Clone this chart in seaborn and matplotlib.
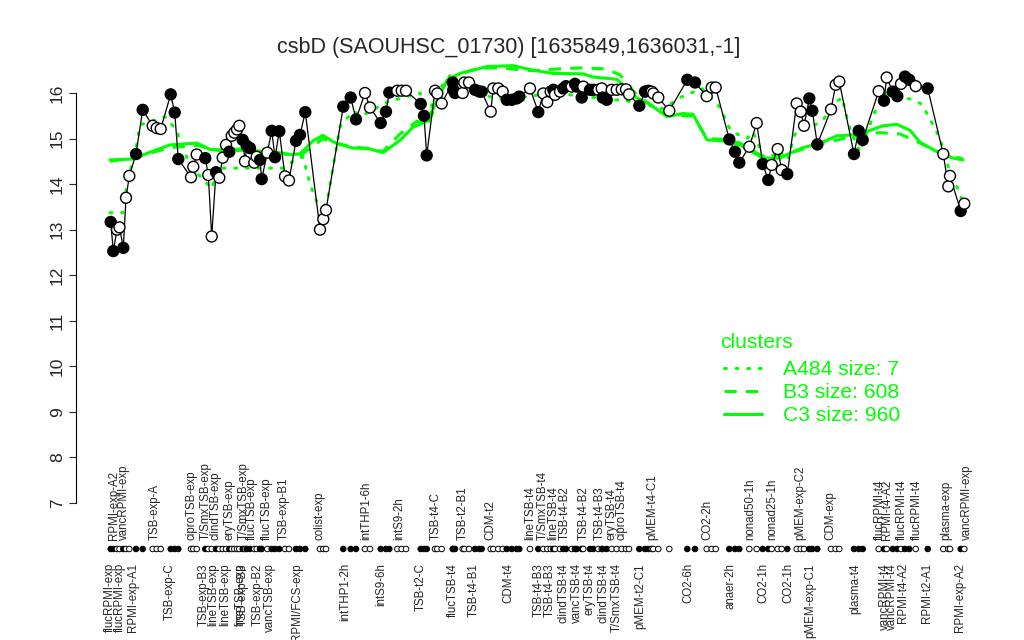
import matplotlib
matplotlib.use("Agg")
import matplotlib.pyplot as plt
import matplotlib.transforms as mtransforms
from matplotlib.lines import Line2D
import seaborn as sns

title = "csbD (SAOUHSC_01730) [1635849,1636031,-1]"

# condition position along the ordering, expression value, filled marker flag
pos = [10.7, 13.3, 17, 19.5, 23.3, 26, 29.3, 36, 42.7, 52.7,
       56.7, 60.7, 70.7, 74.7, 78.3, 91, 93.3, 96.7, 105.3, 108.3,
       111.7, 116, 119.3, 122.7, 126, 129.3, 131.7, 134.3, 137, 139.3,
       142.7, 145, 146.7, 150, 154.3, 156.7, 160, 161.7, 167.3, 171.7,
       175, 179.3, 185, 189, 196, 200, 205.3, 220, 223.3, 226,
       243.3, 250.7, 256, 265, 270, 280.7, 286, 289.3, 297.3, 301.7,
       306, 320.7, 324, 326.7, 335, 337.3, 341.7, 352.7, 353.3, 355,
       362.7, 364.3, 369, 375, 379.3, 381.7, 390.7, 393.3, 398.3, 402.7,
       406.7, 411.7, 416.7, 419.3, 430, 438.3, 443.3, 447.3, 450.7, 453.3,
       455, 460, 463.3, 466, 471.7, 475, 476.7, 481.7, 483.3, 490,
       493.3, 498.3, 501.7, 502.7, 506.7, 511.7, 516.7, 521.7, 526, 529,
       539.3, 545, 548.3, 551.7, 553.3, 558.3, 569.3, 587.3, 595, 606.7,
       611.7, 615.7, 629.3, 635, 639.3, 649.3, 656.7, 662.7, 668.3, 671.7,
       677.7, 681.7, 687.3, 696.7, 700.7, 704, 709.3, 712.3, 717.3, 731,
       735.7, 739.3, 754, 758.7, 762.7, 778.7, 784, 786.7, 792.7, 797.3,
       801, 805, 809.3, 815.7, 827.7, 843.3, 848.3, 850, 860.7, 864.3]
expr = [13.17, 12.53, 13.0, 13.05, 12.6, 13.7, 14.18, 14.66, 15.63, 15.28,
        15.23, 15.21, 15.97, 15.57, 14.55, 14.15, 14.38, 14.65, 14.57, 14.2,
        12.85, 14.26, 14.14, 14.58, 14.86, 14.71, 15.06, 15.13, 15.2, 15.28,
        14.97, 14.5, 14.84, 14.79, 14.47, 14.6, 14.53, 14.11, 14.69, 15.17,
        14.59, 15.16, 14.17, 14.08, 14.95, 15.08, 15.58, 13.0, 13.23, 13.43,
        15.7, 15.9, 15.42, 16.0, 15.68, 15.34, 15.59, 16.01, 16.05, 16.05,
        16.05, 15.76, 15.5, 14.63, 16.05, 15.99, 15.77, 16.23, 16.07, 16.0,
        16.0, 16.23, 16.23, 16.07, 16.03, 16.03, 15.59, 16.1, 16.1, 16.03,
        15.85, 15.85, 15.88, 15.92, 16.1, 15.58, 15.99, 15.8, 16.03, 16.07,
        15.96, 16.03, 16.1, 16.15, 16.14, 16.2, 16.14, 15.9, 16.14, 16.07,
        16.07, 16.07, 16.1, 15.9, 15.85, 16.07, 16.07, 16.08, 16.08, 15.97,
        15.72, 16.03, 16.05, 16.03, 15.99, 15.9, 15.61, 16.29, 16.23, 15.93,
        16.12, 16.12, 14.98, 14.71, 14.47, 14.82, 15.34, 14.44, 14.09, 14.42,
        14.77, 14.31, 14.22, 15.77, 15.59, 15.28, 15.88, 15.61, 14.87, 15.64,
        16.18, 16.25, 14.66, 15.17, 14.97, 16.04, 15.83, 16.34, 16.03, 15.93,
        16.2, 16.36, 16.29, 16.15, 16.1, 14.66, 13.95, 14.18, 13.41, 13.57]
filled = [1, 1, 0, 0, 1, 0, 0, 1, 1, 0,
          0, 0, 1, 1, 1, 0, 0, 0, 1, 0,
          0, 1, 0, 0, 0, 1, 0, 0, 0, 0,
          1, 0, 1, 1, 0, 0, 1, 1, 0, 1,
          1, 1, 0, 0, 1, 1, 1, 0, 0, 0,
          1, 1, 1, 0, 0, 1, 1, 1, 0, 0,
          0, 1, 1, 1, 0, 0, 0, 1, 1, 1,
          0, 0, 0, 1, 1, 1, 0, 0, 0, 0,
          1, 1, 1, 1, 0, 1, 0, 0, 0, 1,
          0, 0, 1, 1, 0, 1, 1, 1, 0, 1,
          1, 0, 0, 1, 1, 0, 0, 0, 0, 0,
          1, 1, 1, 0, 0, 0, 0, 1, 1, 0,
          0, 0, 1, 1, 1, 0, 0, 1, 1, 0,
          0, 0, 1, 0, 0, 0, 1, 1, 1, 0,
          0, 0, 1, 1, 1, 0, 1, 0, 1, 1,
          0, 1, 1, 0, 1, 0, 0, 0, 1, 0]

# cluster mean lines
c3_pos = [10, 33, 50, 70, 97, 110, 123, 140, 163, 177, 190, 200, 213, 223, 233,
          245, 253, 267, 283, 300, 313, 327, 347, 360, 387, 413, 433, 453, 483,
          493, 517, 537, 550, 567, 583, 593, 607, 623, 640, 663, 680, 690, 703,
          720, 737, 753, 770, 783, 797, 810, 820, 837, 853, 863]
c3_val = [14.53, 14.55, 14.7, 14.86, 14.9, 14.76, 14.75, 14.77, 14.71, 14.7,
          14.65, 14.66, 14.95, 15.07, 14.93, 14.84, 14.79, 14.79, 14.69, 14.96,
          15.25, 15.38, 16.28, 16.43, 16.58, 16.6, 16.5, 16.43, 16.42, 16.35,
          16.3, 15.89, 15.75, 15.48, 15.55, 15.53, 14.97, 14.95, 14.86, 14.57,
          14.57, 14.68, 14.8, 14.9, 15.06, 15.08, 15.18, 15.28, 15.31, 15.18,
          14.92, 14.71, 14.57, 14.53]
b3_pos = [10, 33, 50, 70, 97, 123, 150, 177, 200, 223, 233, 253, 283, 300, 317,
          327, 347, 363, 380, 400, 430, 460, 480, 505, 520, 537, 550, 567, 593,
          607, 623, 640, 663, 690, 720, 753, 780, 800, 820, 837, 863]
b3_val = [14.5, 14.58, 14.68, 14.8, 14.85, 14.72, 14.75, 14.68, 14.62, 15.0,
          14.9, 14.82, 14.72, 15.1, 15.38, 15.3, 16.25, 16.44, 16.55, 16.55,
          16.49, 16.53, 16.55, 16.53, 16.4, 15.95, 15.75, 15.5, 15.5, 15.0,
          14.98, 14.9, 14.6, 14.68, 14.88, 15.05, 15.13, 15.1, 14.9, 14.72,
          14.55]
a484_pos = [10, 23, 27, 37, 40, 65, 76, 90, 112, 117, 157, 183, 193, 203, 210,
            217, 223, 227, 240, 253, 262, 287, 320, 330, 333, 350, 360, 392, 413,
            453, 537, 563, 580, 602, 620, 630, 637, 647, 653, 667, 683, 695, 715,
            723, 733, 742, 750, 760, 770, 777, 785, 813, 822, 833, 840, 848, 855,
            863]
a484_val = [13.37, 13.37, 14.0, 14.9, 15.3, 15.48, 15.2, 14.4, 13.9, 14.35,
            14.35, 14.35, 14.5, 14.6, 14.0, 13.6, 13.5, 13.6, 15.26, 15.6,
            15.5, 15.8, 16.0, 15.5, 15.9, 16.38, 16.2, 15.9, 15.88, 16.0,
            15.8, 15.65, 15.9, 16.1, 15.68, 15.2, 15.1, 15.0, 15.15, 14.44,
            14.2, 15.1, 15.3, 15.4, 15.75, 15.9, 15.2, 14.7, 15.3, 15.7,
            16.0, 15.85, 15.75, 15.3, 15.0, 14.4, 14.05, 13.6]

top_pos = [14, 24, 55, 91, 106, 115, 130, 144, 151.7, 166.7, 183.3, 220,
           266.7, 299.3, 336, 362.7, 390.7, 430.7, 443, 453.3, 465, 483.3,
           499.3, 511.7, 521.7, 552.7, 607.3, 650, 672.7, 700, 730.7, 780,
           786.7, 801.7, 816.7, 846, 866.7]
top_labels = ["RPMI-exp-A2", "vancRPMI-exp", "TSB-exp-A", "ciproTSB-exp",
              "T/SmxTSB-exp", "clindTSB-exp", "eryTSB-exp", "T/SmxTSB-exp",
              "flucTSB-exp", "flucTSB-exp", "TSB-exp-B1", "colist-exp",
              "intTHP1-6h", "intS9-2h", "TSB-t4-C", "TSB-t2-B1", "CDM-t2",
              "lineTSB-t4", "T/SmxTSB-t4", "lineTSB-t4", "TSB-t4-B2", "TSB-t4-B2",
              "TSB-t4-B3", "eryTSB-t4", "ciproTSB-t4", "pMEM-t4-C1", "CO2-2h",
              "nonad50-1h", "nonad25-1h", "pMEM-exp-C2", "CDM-exp", "flucRPMI-t4",
              "RPMI-t4-A2", "flucRPMI-t4", "flucRPMI-t4", "plasma-exp",
              "vancRPMI-exp"]
bottom_pos = [10, 20, 32.7, 70, 104, 113.3, 125, 140, 143, 158, 170, 196.7,
              245, 281, 320.7, 353.3, 374, 408.3, 438.3, 450, 463.3, 476.7,
              489.3, 503.3, 516.7, 540, 588.3, 630, 663.3, 688.3, 710, 755,
              785, 791.7, 802.7, 826.7, 860]
bottom_labels = ["flucRPMI-exp", "flucRPMI-exp", "RPMI-exp-A1", "TSB-exp-C",
                 "TSB-exp-B3", "lineTSB-exp", "lineTSB-exp", "lineTSB-exp",
                 "TSB-exp-B3", "TSB-exp-B2", "vancTSB-exp", "RPMI/FCS-exp",
                 "intTHP1-2h", "intS9-6h", "TSB-t2-C", "flucTSB-t4", "TSB-t4-B1",
                 "CDM-t4", "TSB-t4-B3", "TSB-t4-B3", "clindTSB-t4", "vancTSB-t4",
                 "eryTSB-t4", "clindTSB-t4", "T/SmxTSB-t4", "pMEM-t2-C1", "CO2-6h",
                 "anaer-2h", "CO2-1h", "CO2-1h", "pMEM-exp-C1", "plasma-t4",
                 "vancRPMI-t4", "vancRPMI-t4", "RPMI-t4-A2", "RPMI-t2-A1",
                 "RPMI-exp-A2"]

cluster_labels = ["A484 size: 7", "B3 size: 608", "C3 size: 960"]

sns.set_style("white")
plt.rcParams["font.family"] = ["Liberation Sans", "DejaVu Sans"]
green = "#00ff00"
dotted = (0, (0.6, 3.2))
dashed = (0, (4, 3))

fig = plt.figure(figsize=(10.24, 6.4), dpi=100)
ax = fig.add_axes([76 / 1024, 120 / 640, 909 / 1024, 460 / 640])

sns.lineplot(x=a484_pos, y=a484_val, ax=ax, color=green, lw=2.2,
             linestyle=dotted, dash_capstyle="round", zorder=1)
sns.lineplot(x=b3_pos, y=b3_val, ax=ax, color=green, lw=2.2,
             linestyle=dashed, zorder=1)
sns.lineplot(x=c3_pos, y=c3_val, ax=ax, color=green, lw=2.2, zorder=1)

sns.lineplot(x=pos, y=expr, ax=ax, color="black", lw=0.9, estimator=None,
             sort=True, zorder=2)
sns.scatterplot(x=pos, y=expr, hue=filled, palette={1: "black", 0: "white"},
                edgecolor="black", linewidth=1.0, s=62, legend=False, ax=ax,
                zorder=3)

# strip of markers under the plot, one per condition
trans = mtransforms.blended_transform_factory(ax.transData, ax.transAxes)
ax.scatter(pos, [-0.063] * len(pos), s=16, transform=trans, clip_on=False,
           c=["black" if f else "white" for f in filled], edgecolors="black",
           linewidths=0.7, zorder=3)
for p, lab in zip(top_pos, top_labels):
    ax.text(p, -0.043, lab, transform=trans, rotation=90, ha="center",
            va="bottom", fontsize=8.3)
for p, lab in zip(bottom_pos, bottom_labels):
    ax.text(p, -0.094, lab, transform=trans, rotation=90, ha="center",
            va="top", fontsize=8.3)

ax.set_xlim(-24, 885)
ax.set_ylim(6.627, 16.724)
ax.set_xticks([])
ax.set_yticks(range(7, 17))
ax.tick_params(axis="y", left=True, length=5, width=0.8, pad=3,
               labelsize=12.5, labelrotation=90)
for lbl in ax.get_yticklabels():
    lbl.set_va("center")
for s in ["top", "right", "bottom"]:
    ax.spines[s].set_visible(False)
ax.spines["left"].set_bounds(7, 16)
ax.spines["left"].set_color("black")
ax.spines["left"].set_linewidth(0.8)
ax.set_xlabel("")
ax.set_ylabel("")

fig.text(0.497, 1 - 47 / 640, title, ha="center", va="center", fontsize=15.5)

fig.text(720 / 1024, 1 - 343 / 640, "clusters", ha="left", va="center",
         fontsize=15.2, color=green)
handles = [Line2D([], [], color=green, lw=2.2, linestyle=dotted,
                  dash_capstyle="round"),
           Line2D([], [], color=green, lw=2.2, linestyle=dashed),
           Line2D([], [], color=green, lw=2.2)]
leg = fig.legend(handles, cluster_labels, loc="upper left",
                 bbox_to_anchor=(724 / 1024, 1 - 360 / 640), frameon=False,
                 fontsize=15.2, labelcolor=green,
                 handlelength=1.8, handletextpad=1.0, labelspacing=0.2,
                 borderpad=0, borderaxespad=0)

fig.savefig("out.png", dpi=100)
